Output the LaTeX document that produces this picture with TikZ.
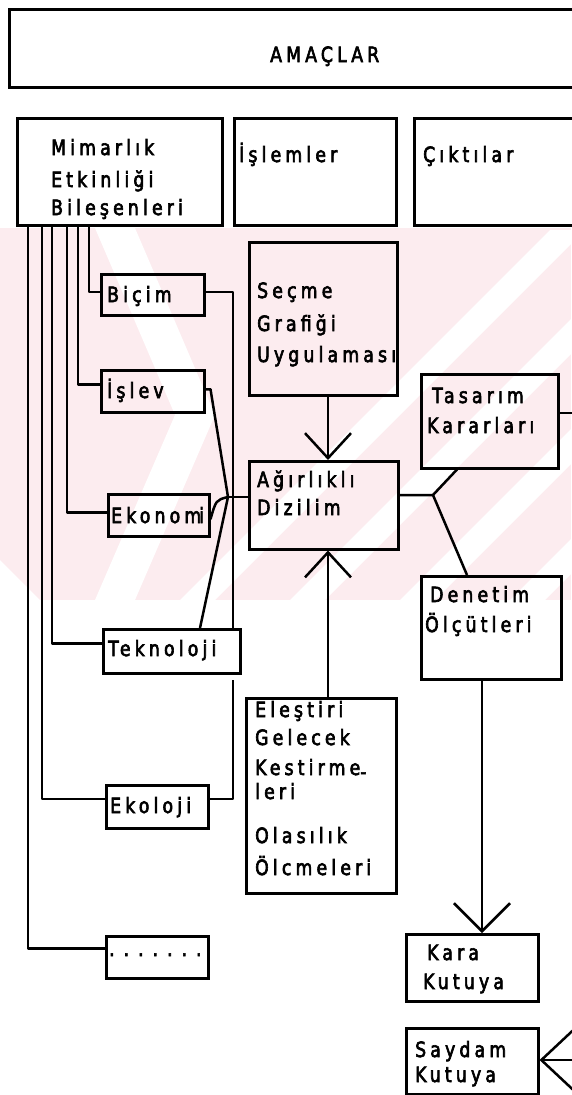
\documentclass[tikz,border=0pt]{standalone}
\usepackage{fontspec}
\usetikzlibrary{arrows.meta,calc}
\newfontfamily\lettfont{DejaVu Sans}[FakeStretch=0.82,LetterSpace=20,FakeBold=3]
\newcommand\lettsize{\lettfont\fontsize{21}{25}\selectfont}
\definecolor{wmpink}{RGB}{252,236,239}
\begin{document}
\begin{tikzpicture}[x=1pt,y=-1pt,
  bx/.style={draw, line width=2.5pt, inner sep=0pt, anchor=north west},
  tx/.style={anchor=base west, inner sep=0pt, font=\lettsize},
  ln/.style={line width=2.5pt, line join=round},
  barb/.style={-{Straight Barb[length=25pt,width=46pt,line width=2.5pt]}}]
\useasboundingbox (0,0) rectangle (571,1095);
% watermark
\fill[wmpink] (0,228) rectangle (571,600);
\fill[white] (95,228) -- (135,228) -- (215,415) -- (135,600) -- (95,600) -- (175,415) -- cycle;
\foreach \x in {180,290,400,510}{
  \fill[white] (\x,600) -- (\x+35,600) -- (\x+405,230) -- (\x+370,230) -- cycle;}
\fill[white] (0,600) -- (0,560) -- (40,600) -- cycle;
% top boxes
\node[bx, minimum width=580pt, minimum height=78pt] (ama) at (8,8) {};
\node[tx] (ama-t) at (270,62) {AMAÇLAR};
\node[bx, minimum width=205pt, minimum height=107pt] (mim) at (16,117) {};
\node[tx] (mim-t1) at (51,155) {Mimarlık};
\node[tx] (mim-t2) at (51,187) {Etkinliği};
\node[tx] (mim-t3) at (51,215) {Bileşenleri};
\node[bx, minimum width=162pt, minimum height=107pt] (isl) at (233,117) {};
\node[tx] (isl-t) at (239,162) {İşlemler};
\node[bx, minimum width=170pt, minimum height=107pt] (cik) at (413,117) {};
\node[tx] (cik-t) at (423,162) {Çıktılar};
% component boxes
\node[bx, minimum width=103pt, minimum height=41pt] (bic) at (100,273) {};
\node[tx] (bic-t) at (107,302) {Biçim};
\node[bx, minimum width=103pt, minimum height=42pt] (isv) at (100,369) {};
\node[tx] (isv-t) at (107,398) {İşlev};
\node[bx, minimum width=101pt, minimum height=42pt] (eko) at (107,493) {};
\node[tx] (eko-t) at (111,523) {Ekonom\kern-2pt i};
\node[bx, minimum width=137pt, minimum height=44pt] (tek) at (102,628) {};
\node[tx] (tek-t) at (108,656) {Teknoloji};
\node[bx, minimum width=102pt, minimum height=43pt] (ekl) at (105,784) {};
\node[tx] (ekl-t) at (110,813) {Ekoloji};
\node[bx, minimum width=102pt, minimum height=42pt] (dot) at (105,935) {};
\node[tx] (dot-t) at (109,956) {.\kern9pt.\kern9pt.\kern9pt.\kern9pt.\kern9pt.\kern9pt.};
% process boxes
\node[bx, minimum width=148pt, minimum height=153pt] (sec) at (248,241) {};
\node[tx] (sec-t1) at (257,298) {Seçme};
\node[tx] (sec-t2) at (257,331) {Grafiği};
\node[tx] (sec-t3) at (257,362) {Uygulaması};
\node[bx, minimum width=149pt, minimum height=88pt] (agr) at (248,460) {};
\node[tx] (agr-t1) at (257,487) {Ağırlıklı};
\node[tx] (agr-t2) at (257,515) {Dizilim};
\node[bx, minimum width=150pt, minimum height=195pt] (ele) at (245,697) {};
\node[tx] (ele-t1) at (255,717) {Eleştiri};
\node[tx] (ele-t2) at (255,745) {Gelecek};
\node[tx] (ele-t3) at (255,775) {Kestirme\raisebox{-4pt}{-}};
\node[tx] (ele-t4) at (255,799) {leri};
\node[tx] (ele-t5) at (255,843) {Olasılık};
\node[tx] (ele-t6) at (255,875) {Ölcmeleri};
% output boxes
\node[bx, minimum width=137pt, minimum height=94pt] (tas) at (420,373) {};
\node[tx] (tas-t1) at (432,403) {Tasarım};
\node[tx] (tas-t2) at (427,433) {Kararları};
\node[bx, minimum width=140pt, minimum height=103pt] (den) at (420,575) {};
\node[tx] (den-t1) at (430,602) {Denetim};
\node[tx] (den-t2) at (425,632) {Ölçütleri};
\node[bx, minimum width=132pt, minimum height=67pt] (kar) at (405,933) {};
\node[tx] (kar-t1) at (427,960) {Kara};
\node[tx] (kar-t2) at (423,989) {Kutuya};
\node[bx, minimum width=132pt, minimum height=66pt] (say) at (405,1027) {};
\node[tx] (say-t1) at (415,1057) {Saydam};
\node[tx] (say-t2) at (415,1082) {Kutuya};
% coordinates
\coordinate (j) at (228,497);
\coordinate (br) at (433,495);
\coordinate (ekend) at (233,680);
\coordinate (tasend) at (575,413);
\coordinate (sayend) at (575,1060);
% lines from Mimarlik
\draw[ln] (89,0 |- mim.south) |- ([yshift=3pt]bic.west);
\draw[ln] (78,0 |- mim.south) |- ([yshift=7pt]isv.west);
\draw[ln] (67,0 |- mim.south) |- ([yshift=3pt]eko.west);
\draw[ln] (52,0 |- mim.south) |- ([yshift=8pt]tek.west);
\draw[ln] (42,0 |- mim.south) |- ([yshift=8pt]ekl.west);
\draw[ln] (28,0 |- mim.south) |- ([yshift=9pt]dot.west);
% component connectors
\draw[ln] ([yshift=3pt]bic.east) -| (tek.north -| ekend);
\draw[ln] ([yshift=8pt]ekl.east) -| (ekend);
\draw[ln] ([yshift=2pt]isv.east) -- ++(5,0) -- (j);
\draw[ln] ([yshift=-4pt]eko.east) .. controls (216,500) .. (j);
\draw[ln] (tek.north -| 200,0) -- (j);
\draw[ln] (j) -- (agr.west |- j);
% arrows to Agirlikli
\draw[ln,barb] (sec.south -| 328,0) -- (agr.north -| 328,0);
\draw[ln,barb] (ele.north -| 328,0) -- (agr.south -| 328,0);
% outputs
\draw[ln] (agr.east |- br) -- (br) -- (tas.south -| 457,0);
\draw[ln] (br) -- (den.north -| 467,0);
\draw[ln] (tas.east |- tasend) -- (tasend);
\draw[ln,-{Straight Barb[length=28pt,width=56pt,line width=2.5pt]}] (den.south -| 482,0) -- (kar.north -| 482,0);
\draw[ln,-{Straight Barb[length=32pt,width=60pt,line width=2.5pt]}] (sayend) -- (say.east |- sayend);
\end{tikzpicture}
\end{document}
